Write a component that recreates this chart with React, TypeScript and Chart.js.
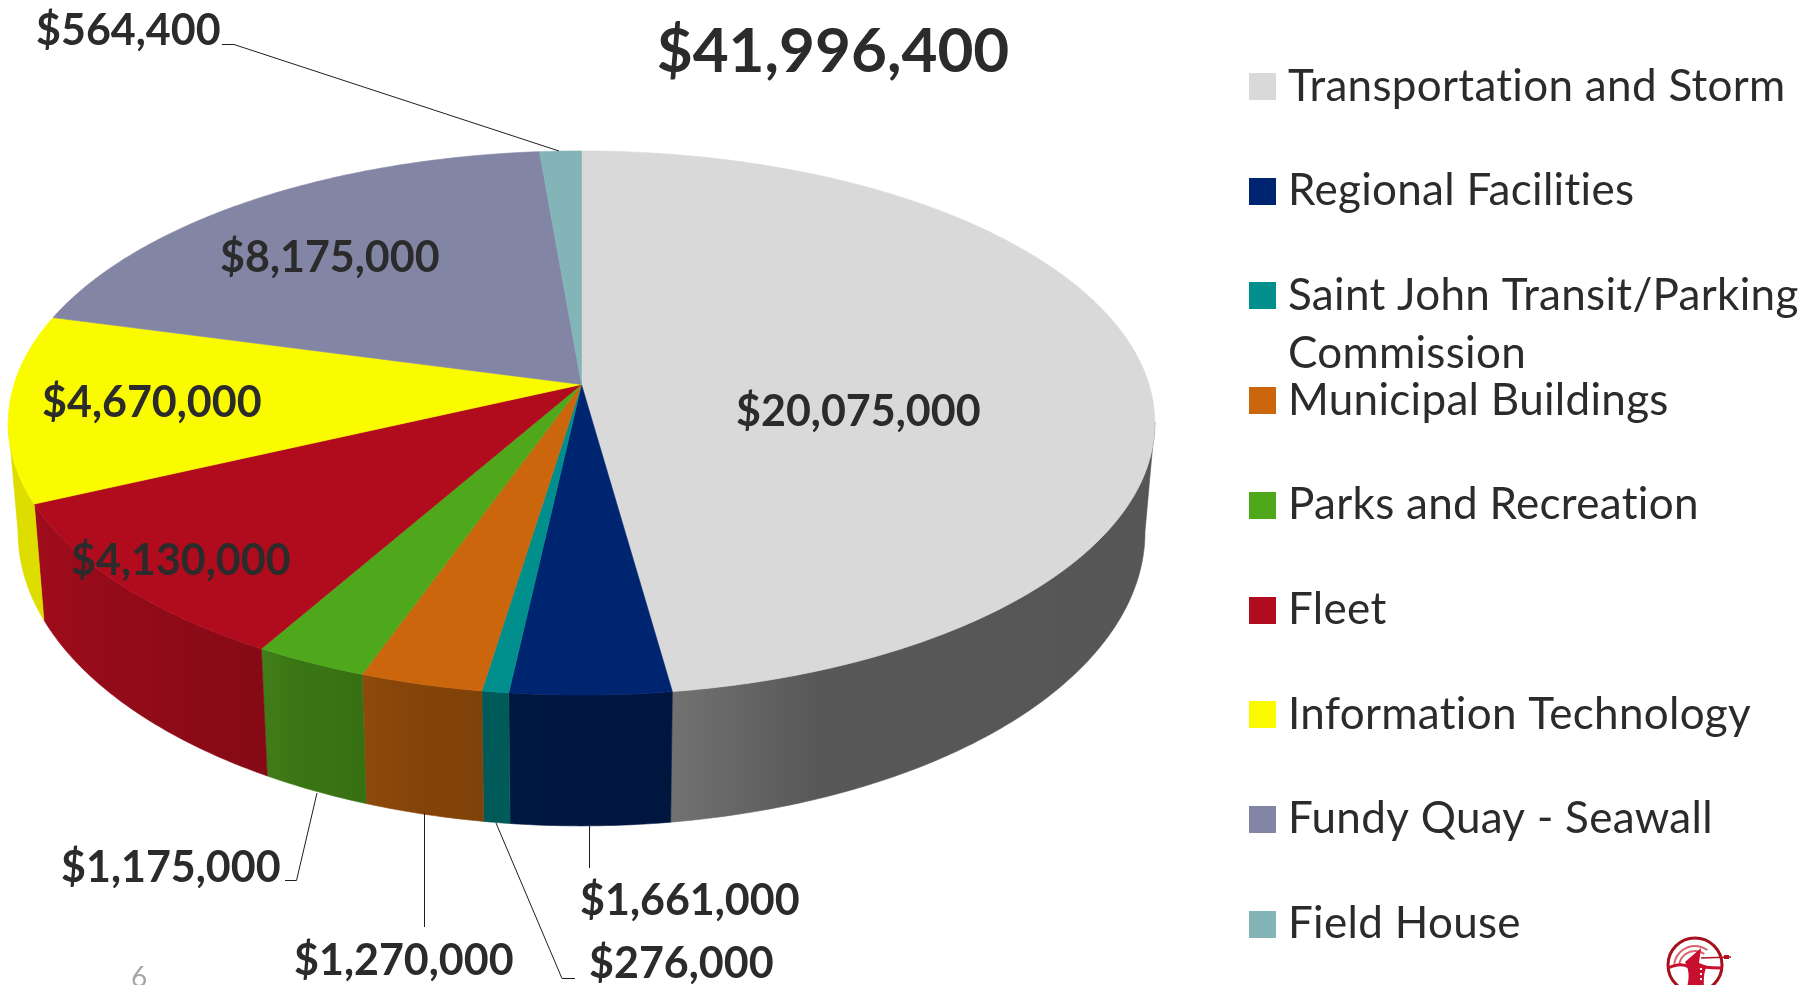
import React, { useEffect, useRef } from "react";
import { Chart, registerables } from "chart.js";

Chart.register(...registerables);

const categories = [
  "Transportation and Storm",
  "Regional Facilities",
  "Saint John Transit/Parking Commission",
  "Municipal Buildings",
  "Parks and Recreation",
  "Fleet",
  "Information Technology",
  "Fundy Quay - Seawall",
  "Field House",
];
const values = [20075000, 1661000, 276000, 1270000, 1175000, 4130000, 4670000, 8175000, 564400];
const totalLabel = "$41,996,400";
const topColors = ["#d9d9d9", "#002570", "#008f8c", "#cc660c", "#4fa81c", "#b10c1e", "#fbfb00", "#8385a5", "#83b5b8"];
const wallColors = [
  ["#727272", "#585858", "#565656"],
  ["#00183f", "#00163f", "#00163f"],
  ["#005a5a", "#005a5a", "#005a5a"],
  ["#8e4a0a", "#874509", "#7e4208"],
  ["#417e18", "#3b7614", "#377012"],
  ["#a00c1c", "#950b19", "#850a16"],
  ["#dedd00", "#dedd00", "#dedd00"],
  ["#6a6b85", "#6a6b85", "#6a6b85"],
  ["#6a9295", "#6a9295", "#6a9295"],
];

const TEXT = "#2b2b2b";
const fmt = (v: number) => "$" + v.toLocaleString("en-US");

// perspective of the disc, relative to the chart's own radius
const TOP = { a: 1.476, b: 0.6934, k: 0.1415, dy: 0 };
const BOT = { a: 1.451, b: 0.749, k: 0.14, dy: 0.277 };

type Persp = typeof TOP;
const project = (arc: any, p: Persp, angle: number) => {
  const u = Math.cos(angle), v = Math.sin(angle), d = 1 - p.k * v, r = arc.outerRadius;
  return [arc.x + (p.a * r * u) / d, arc.y + p.dy * r + (p.b * r * v) / d];
};
const rim = (arc: any, p: Persp, a0: number, a1: number) => {
  const n = Math.max(2, Math.ceil(Math.abs(a1 - a0) / 0.01));
  const pts: number[][] = [];
  for (let i = 0; i <= n; i++) pts.push(project(arc, p, a0 + ((a1 - a0) * i) / n));
  return pts;
};
const fillPoly = (ctx: CanvasRenderingContext2D, pts: number[][], fill: any) => {
  ctx.beginPath();
  pts.forEach(([x, y], i) => (i ? ctx.lineTo(x, y) : ctx.moveTo(x, y)));
  ctx.closePath();
  ctx.fillStyle = fill;
  ctx.strokeStyle = fill;
  ctx.lineWidth = 0.6;
  ctx.fill();
  ctx.stroke();
};

// the wall runs between the two points where the disc's outline turns back
const WALL_MIN = (8 * Math.PI) / 180;
const WALL_MAX = (172 * Math.PI) / 180;

const pie3d = {
  id: "pie3d",
  beforeDatasetDraw(chart: any, args: any) {
    const ctx: CanvasRenderingContext2D = chart.ctx;
    const arcs = args.meta.data;
    ctx.save();
    arcs.forEach((arc: any, i: number) => {
      const a0 = Math.max(arc.startAngle, WALL_MIN);
      const a1 = Math.min(arc.endAngle, WALL_MAX);
      if (a1 <= a0) return;
      const t = rim(arc, TOP, a0, a1);
      const b = rim(arc, BOT, a0, a1).reverse();
      const all = t.concat(b);
      const xs = all.map((p) => p[0]);
      const g = ctx.createLinearGradient(Math.min(...xs), 0, Math.max(...xs), 0);
      g.addColorStop(0, wallColors[i][0]);
      g.addColorStop(0.3, wallColors[i][1]);
      g.addColorStop(1, wallColors[i][2]);
      fillPoly(ctx, all, g);
    });
    arcs.forEach((arc: any, i: number) => {
      fillPoly(ctx, [[arc.x, arc.y], ...rim(arc, TOP, arc.startAngle, arc.endAngle)], topColors[i]);
    });
    ctx.restore();
    return false;
  },
};

const valueSpots = [
  [736, 411], [580, 900], [589, 963], [294, 960], [61, 867], [71, 560], [42, 402], [220, 257], [36, 30],
];
const leaders = [
  null,
  [[589.5, 826], [589.5, 868]],
  [[496, 823], [562, 978.5], [575, 978.5]],
  [[424.5, 813], [424.5, 927]],
  [[317, 793], [296.5, 880.5], [285, 880.5]],
  null,
  null,
  null,
  [[559, 151], [234, 44.5], [222, 44.5]],
];

const annotations = {
  id: "annotations",
  afterDraw(chart: any) {
    const ctx: any = chart.ctx;
    ctx.save();
    ctx.textAlign = "left";
    ctx.textBaseline = "alphabetic";

    // leader lines
    ctx.strokeStyle = "#1e1e1e";
    ctx.lineWidth = 1;
    leaders.forEach((l) => {
      if (!l) return;
      ctx.beginPath();
      l.forEach(([x, y], i) => (i ? ctx.lineTo(x, y) : ctx.moveTo(x, y)));
      ctx.stroke();
    });

    // value labels
    ctx.fillStyle = TEXT;
    ctx.font = "700 43px Lato";
    values.forEach((v, i) => {
      const [x, y] = valueSpots[i];
      ctx.fillText(fmt(v), x, y + 15);
    });

    // title
    ctx.font = "700 62px Lato";
    ctx.textAlign = "center";
    ctx.fillText(totalLabel, 833, 72);

    // legend
    ctx.textAlign = "left";
    ctx.font = "400 44px Lato";
    ctx.letterSpacing = "0.3px";
    categories.forEach((c, i) => {
      const top = 73 + i * 104.7;
      ctx.fillStyle = topColors[i];
      ctx.fillRect(1249, Math.round(top), 27, 27);
      ctx.fillStyle = TEXT;
      const split = c.indexOf(" Commission");
      if (split > 0) {
        ctx.fillText(c.slice(0, split), 1288, top + 27.5);
        ctx.fillText("Commission", 1288, top + 85.5);
      } else {
        ctx.fillText(c, 1288, top + 27.5);
      }
    });
    ctx.letterSpacing = "0px";

    // page number
    ctx.fillStyle = "#a6a6a6";
    ctx.font = "400 28px Lato";
    ctx.fillText("6", 131, 987);

    // logo
    const lx = 1695, ly = 965;
    ctx.strokeStyle = "#a5101c";
    ctx.lineWidth = 3;
    ctx.beginPath();
    ctx.arc(lx, ly, 27, 0, Math.PI * 2);
    ctx.stroke();
    ctx.lineWidth = 2;
    ctx.strokeStyle = "#d8606a";
    [21, 16].forEach((r) => {
      ctx.beginPath();
      ctx.arc(lx, ly + 2, r, Math.PI * 1.05, Math.PI * 1.7);
      ctx.stroke();
    });
    ctx.strokeStyle = "#c8102e";
    ctx.lineWidth = 3;
    ctx.beginPath();
    ctx.moveTo(lx - 27, ly + 3);
    ctx.quadraticCurveTo(lx - 14, ly - 3, lx - 6, ly + 2);
    ctx.moveTo(lx + 27, ly + 3);
    ctx.quadraticCurveTo(lx + 18, ly + 3, lx + 8, ly + 2);
    ctx.stroke();
    ctx.fillStyle = "#c8102e";
    ctx.beginPath();
    ctx.moveTo(lx - 10, ly - 3);
    ctx.lineTo(lx + 6, ly - 17);
    ctx.lineTo(lx + 4, ly - 2);
    ctx.lineTo(lx + 12, ly + 1);
    ctx.quadraticCurveTo(lx + 8, ly + 8, lx + 9, ly + 22);
    ctx.lineTo(lx - 8, ly + 22);
    ctx.quadraticCurveTo(lx - 4, ly + 8, lx - 10, ly - 3);
    ctx.fill();
    ctx.fillStyle = "#fff";
    [3, 8, 13].forEach((d) => ctx.fillRect(lx + 5, ly + d, 2, 2));
    ctx.strokeStyle = "#b01020";
    ctx.lineWidth = 1.5;
    ctx.beginPath();
    ctx.moveTo(lx + 6, ly - 7);
    ctx.lineTo(lx + 36, ly - 8);
    ctx.stroke();
    ctx.fillStyle = "#b01020";
    ctx.fillRect(lx + 29, ly - 10, 5, 4);
    ctx.restore();
  },
};

export default function App() {
  const ref = useRef<HTMLCanvasElement>(null);
  useEffect(() => {
    document.body.style.margin = "0";
    const chart = new Chart(ref.current as HTMLCanvasElement, {
      type: "pie",
      data: {
        labels: categories,
        datasets: [{ data: values, backgroundColor: topColors, borderWidth: 0 }],
      },
      options: {
        animation: false,
        responsive: false,
        devicePixelRatio: 1,
        layout: { padding: { left: 0, top: 0, right: 653, bottom: 216 } },
        plugins: { legend: { display: false }, title: { display: false }, tooltip: { enabled: false } },
      },
      plugins: [pie3d, annotations],
    } as any);
    return () => chart.destroy();
  }, []);
  return (
    <div style={{ width: 1816, height: 985, overflow: "hidden", background: "#fff" }}>
      <canvas ref={ref} width={1816} height={985} style={{ display: "block" }} />
    </div>
  );
}
